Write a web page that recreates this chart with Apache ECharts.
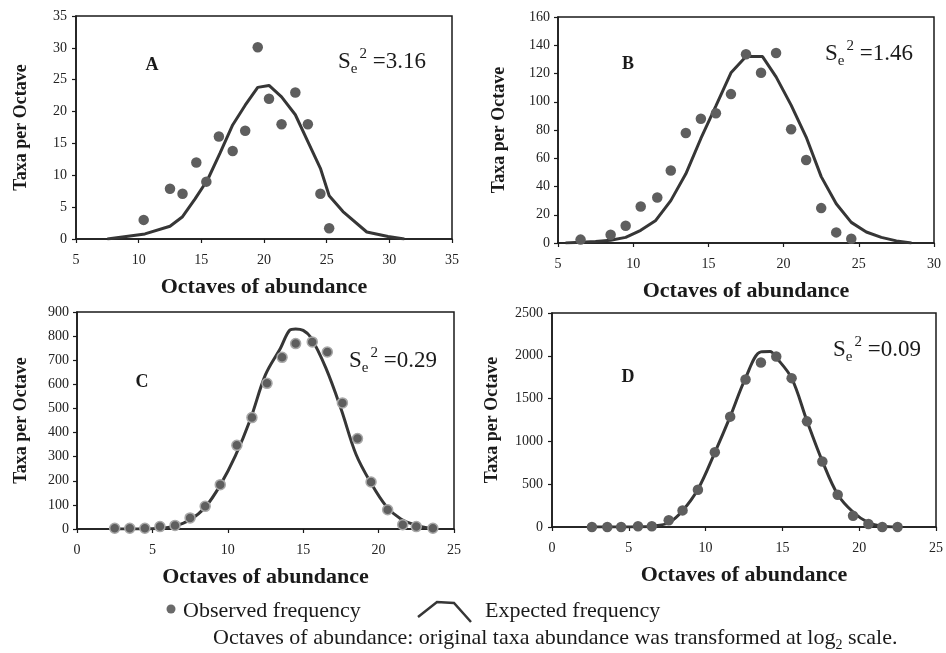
<!DOCTYPE html>
<html><head><meta charset="utf-8">
<script src="https://cdn.jsdelivr.net/npm/echarts@6/dist/echarts.min.js"></script>
<style>html,body{margin:0;padding:0;background:#fff}#c{width:946px;height:653px}</style>
</head><body><div id="c"></div>
<script>
// Panel A
const aObsX=[10.4,12.5,13.5,14.6,15.4,16.4,17.5,18.5,19.5,20.4,21.4,22.5,23.5,24.5,25.2];
const aObsY=[3.0,7.9,7.1,12.0,9.0,16.1,13.8,17.0,30.1,22.0,18.0,23.0,18.0,7.1,1.7];
const aExpX=[7.5,10.5,12.5,13.5,14.5,15.5,16.5,17.5,18.5,19.5,20.4,21.4,22.5,23.5,24.5,25.2,26.3,28.2,29.9,31.2];
const aExpY=[0,0.8,2.0,3.5,6.3,9.3,13.5,17.9,21.0,23.8,24.1,22.3,19.5,15.3,11.1,6.8,4.3,1.1,0.4,0];
// Panel B
const bObsX=[6.5,8.5,9.5,10.5,11.6,12.5,13.5,14.5,15.5,16.5,17.5,18.5,19.5,20.5,21.5,22.5,23.5,24.5];
const bObsY=[2.4,5.9,12.2,25.9,32.2,51.3,77.9,88.0,91.8,105.4,133.6,120.5,134.5,80.5,58.8,24.7,7.5,3.0];
const bExpX=[5.5,6.5,7.5,8.5,9.5,10.5,11.5,12.5,13.5,14.5,15.5,16.5,17.5,18.6,19.5,20.5,21.5,22.5,23.5,24.5,25.5,26.5,27.5,28.5];
const bExpY=[0,0.5,1,2,4,9,16,30,49,74,97,120.5,132,132,117.6,97.6,75,47,27.8,14.6,7.8,4,1.5,0];
// Panel C
const cObsX=[2.5,3.5,4.5,5.5,6.5,7.5,8.5,9.5,10.6,11.6,12.6,13.6,14.5,15.6,16.6,17.6,18.6,19.5,20.6,21.6,22.5,23.6];
const cObsY=[3,3,3,10,15,46,94,184,347,462,604,712,769,776,734,523,375,195,80,18,10,3];
const cExpX=[2.5,3.5,4.5,5.5,6.5,7.5,8.5,9.5,10.5,11.5,12.5,13.5,14.1,14.5,15.0,15.5,16.5,17.5,18.5,19.5,20.5,21.5,22.5,23.5];
const cExpY=[0,0,0,3,12,38,90,182,303,455,640,751,824,830,824,795,668,500,310,190,95,40,15,2];
// Panel D
const dObsX=[2.6,3.6,4.5,5.6,6.5,7.6,8.5,9.5,10.6,11.6,12.6,13.6,14.6,15.6,16.6,17.6,18.6,19.6,20.6,21.5,22.5];
const dObsY=[0,0,0,8,8,78,194,435,873,1289,1724,1922,1991,1739,1234,765,377,132,35,0,0];
const dExpX=[2.6,3.6,4.5,5.6,6.5,7.6,8.5,9.5,10.6,11.6,12.6,13.6,14.2,14.6,15.6,16.6,17.6,18.6,19.6,20.6,21.5,22.5];
const dExpY=[0,0,0,2,10,50,190,440,870,1290,1740,2046,2050,1980,1739,1240,770,380,175,50,8,0];

const panelLetters=['A','B','C','D'];
const seLabels=['3.16','1.46','0.29','0.09'];
const xRanges=[[5,35],[5,30],[0,25],[0,25]];
const yRanges=[[0,35,5],[0,160,20],[0,900,100],[0,2500,500]];
const xTitle='Octaves of abundance';
const yTitle='Taxa per Octave';

const SERIF="'Liberation Serif','Times New Roman',serif";
const grids=[
  {left:76,top:16,width:376,height:223},
  {left:558,top:17,width:376,height:226},
  {left:77,top:312,width:377,height:217},
  {left:552,top:313,width:386,height:214}
];
const yGaps=[46,50,47,51];
const yMargins=[9,8,8,9];
const zip=(xs,ys)=>xs.map((x,i)=>[x,ys[i]]);
const obs=[zip(aObsX,aObsY),zip(bObsX,bObsY),zip(cObsX,cObsY),zip(dObsX,dObsY)];
const exp=[zip(aExpX,aExpY),zip(bExpX,bExpY),zip(cExpX,cExpY),zip(dExpX,dExpY)];

const option={
  animation:false,
  backgroundColor:'#fff',
  grid:grids.map(g=>Object.assign({show:true,borderColor:'#1a1a1a',borderWidth:1.5,backgroundColor:'transparent'},g)),
  xAxis:grids.map((g,i)=>({
    type:'value',gridIndex:i,min:xRanges[i][0],max:xRanges[i][1],interval:5,
    name:xTitle,nameLocation:'middle',nameGap:37,
    nameTextStyle:{fontFamily:SERIF,fontWeight:'bold',fontSize:22,color:'#1a1a1a'},
    axisLine:{lineStyle:{color:'#1a1a1a',width:1.5}},
    axisTick:{show:true,inside:false,length:4,lineStyle:{color:'#1a1a1a',width:1.2}},
    axisLabel:{fontFamily:SERIF,fontSize:14,color:'#222',margin:14,formatter:v=>String(v)},
    splitLine:{show:false}
  })),
  yAxis:grids.map((g,i)=>({
    type:'value',gridIndex:i,min:yRanges[i][0],max:yRanges[i][1],interval:yRanges[i][2],
    name:yTitle,nameLocation:'middle',nameGap:yGaps[i],nameRotate:90,
    nameTextStyle:{fontFamily:SERIF,fontWeight:'bold',fontSize:18,color:'#1a1a1a'},
    axisLine:{show:true,lineStyle:{color:'#1a1a1a',width:1.5}},
    axisTick:{show:true,inside:false,length:4,lineStyle:{color:'#1a1a1a',width:1.2}},
    axisLabel:{fontFamily:SERIF,fontSize:14,color:'#222',margin:yMargins[i],formatter:v=>String(v)},
    splitLine:{show:false}
  })),
  series:[].concat(...grids.map((g,i)=>[
    {type:'line',xAxisIndex:i,yAxisIndex:i,data:exp[i],showSymbol:false,smooth:i>=2?0.35:false,
     lineStyle:{color:'#363636',width:3},z:2},
    {type:'scatter',xAxisIndex:i,yAxisIndex:i,data:obs[i],symbol:'circle',symbolSize:i===2?10:10.5,
     itemStyle:{color:'#5e5e5e',borderColor:i===2?'#a8a8a8':'#5e5e5e',borderWidth:i===2?1.5:0,opacity:1},z:3}
  ])),
  graphic:[]
};
const letterPos=[[152,65],[628,64],[142,382],[628,377]];
const sePos=[[338,62],[825,54],[349,361],[833,350]];
letterPos.forEach((p,i)=>{
  option.graphic.push({type:'text',x:p[0],y:p[1],style:{text:panelLetters[i],fontFamily:SERIF,fontWeight:'bold',fontSize:18,fill:'#1a1a1a',align:'center',verticalAlign:'middle'}});
  option.graphic.push({type:'text',x:sePos[i][0],y:sePos[i][1],style:{
    text:'{s|S}{e|e}{p|2}{s| ='+seLabels[i]+'}',align:'left',verticalAlign:'middle',
    rich:{
      s:{fontFamily:SERIF,fontSize:23,fill:'#1a1a1a',lineHeight:30,verticalAlign:'middle'},
      e:{fontFamily:SERIF,fontSize:15,fill:'#1a1a1a',lineHeight:30,verticalAlign:'bottom',padding:[0,0,0,0]},
      p:{fontFamily:SERIF,fontSize:15,fill:'#1a1a1a',lineHeight:30,verticalAlign:'top',padding:[0,0,0,2]}
    }}});
});
// legend / footnote
option.graphic.push({type:'circle',shape:{cx:171,cy:609,r:4.5},style:{fill:'#6a6a6a'}});
option.graphic.push({type:'text',x:183,y:611,style:{text:'Observed frequency',fontFamily:SERIF,fontSize:22,fill:'#1a1a1a',verticalAlign:'middle'}});
option.graphic.push({type:'polyline',shape:{points:[[418,617],[437,602],[454,603],[471,622]]},style:{stroke:'#363636',lineWidth:2.5,fill:null}});
option.graphic.push({type:'text',x:485,y:611,style:{text:'Expected frequency',fontFamily:SERIF,fontSize:22,fill:'#1a1a1a',verticalAlign:'middle'}});
option.graphic.push({type:'text',x:213,y:638,style:{
  text:'{t|Octaves of abundance: original taxa abundance was transformed at log}{u|2}{t| scale.}',verticalAlign:'middle',
  rich:{t:{fontFamily:SERIF,fontSize:22,fill:'#1a1a1a',lineHeight:28,verticalAlign:'middle'},
        u:{fontFamily:SERIF,fontSize:14,fill:'#1a1a1a',lineHeight:28,verticalAlign:'bottom'}}}});

const chart=echarts.init(document.getElementById('c'),null,{renderer:'canvas'});
chart.setOption(option);
</script></body></html>
